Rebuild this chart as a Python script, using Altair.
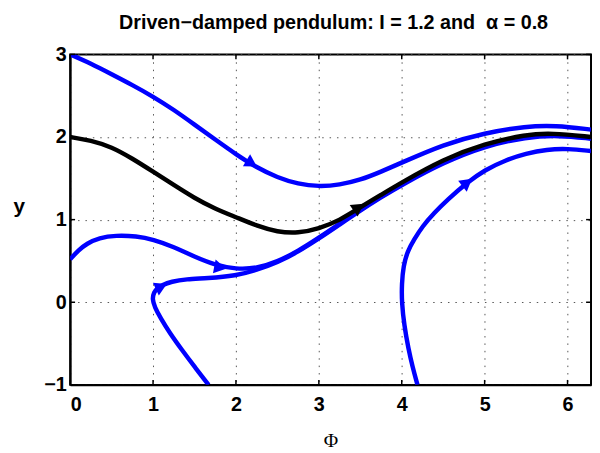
import altair as alt
import pandas as pd

# ---- data ----
c1_phi = [0, 0.25, 0.5, 0.75, 1.0, 1.25, 1.5, 1.75, 2.0, 2.25, 2.5, 2.75, 3.0, 3.25, 3.5, 3.75, 4.0, 4.5, 5.0, 5.5, 5.85, 6.2832]
c1_y = [3.0, 2.89, 2.76, 2.63, 2.49, 2.33, 2.15, 1.97, 1.79, 1.63, 1.51, 1.43, 1.40, 1.42, 1.48, 1.58, 1.69, 1.91, 2.05, 2.13, 2.14, 2.09]

blk_phi = [0, 0.25, 0.5, 0.75, 1.0, 1.25, 1.5, 1.75, 2.0, 2.25, 2.5, 2.75, 3.0, 3.25, 3.5, 3.75, 4.0, 4.5, 5.0, 5.5, 5.8, 6.2832]
blk_y = [2.0, 1.96, 1.88, 1.74, 1.58, 1.42, 1.26, 1.13, 1.03, 0.925, 0.85, 0.835, 0.89, 0.99, 1.15, 1.30, 1.45, 1.73, 1.92, 2.03, 2.05, 2.0]

c2_phi = [0, 0.1, 0.2, 0.35, 0.55, 0.8, 1.0, 1.25, 1.5, 1.75, 2.0, 2.25, 2.5, 2.75, 3.0, 3.25, 3.5, 3.75, 4.0, 4.5, 5.0, 5.5, 5.9, 6.2832]
c2_y = [0.52, 0.63, 0.71, 0.78, 0.81, 0.80, 0.76, 0.67, 0.55, 0.45, 0.40, 0.41, 0.49, 0.62, 0.78, 0.95, 1.12, 1.28, 1.43, 1.70, 1.90, 2.01, 2.03, 1.99]

c3_phi = [1.67, 1.50, 1.35, 1.20, 1.09, 1.02, 0.99, 1.01, 1.05, 1.11, 1.22, 1.40, 1.65, 2.0, 2.25, 2.5, 2.75, 3.0, 3.25, 3.5, 3.75, 4.0, 4.5, 5.0, 5.5, 5.9, 6.2832]
c3_y = [-1.0, -0.78, -0.58, -0.37, -0.19, -0.06, 0.04, 0.12, 0.17, 0.21, 0.25, 0.28, 0.29, 0.32, 0.39, 0.48, 0.61, 0.77, 0.94, 1.11, 1.27, 1.42, 1.69, 1.89, 2.0, 2.02, 1.98]

c4_phi = [4.19, 4.13, 4.08, 4.03, 4.00, 4.00, 4.02, 4.07, 4.15, 4.25, 4.39, 4.55, 4.79, 5.0, 5.25, 5.5, 5.75, 6.0, 6.2832]
c4_y = [-1.0, -0.78, -0.56, -0.28, 0.0, 0.22, 0.44, 0.62, 0.76, 0.92, 1.08, 1.24, 1.45, 1.60, 1.72, 1.80, 1.85, 1.86, 1.83]

# arrowheads: position, direction (degrees clockwise on screen), colour
arrow_phi = [2.19, 3.48, 4.79, 1.81, 1.10]
arrow_y = [1.68, 1.15, 1.45, 0.42, 0.19]
arrow_angle = [31, 325, 322, 11, 335]
arrow_curve = ["c1", "black", "c4", "c2", "c3"]

x_ticks = [0, 1, 2, 3, 4, 5, 6]
y_ticks = [-1, 0, 1, 2, 3]

TITLE = "Driven\u2212damped pendulum: I = 1.2 and\u00a0 \u03b1 = 0.8"

# ---- tables ----
rows = []
for name, xs, ys in [("c1", c1_phi, c1_y), ("c2", c2_phi, c2_y), ("c3", c3_phi, c3_y),
                     ("c4", c4_phi, c4_y), ("black", blk_phi, blk_y)]:
    for i, (a, b) in enumerate(zip(xs, ys)):
        rows.append({"curve": name, "phi": a, "y": b, "i": i})
curves = pd.DataFrame(rows)
arrows = pd.DataFrame({"phi": arrow_phi, "y": arrow_y, "angle": arrow_angle, "curve": arrow_curve})
xt = pd.DataFrame({"phi": x_ticks})
yt = pd.DataFrame({"y": y_ticks})

W, H = 528, 335
xscale = alt.Scale(domain=[0, 6.2832], nice=False, zero=False)
yscale = alt.Scale(domain=[-1, 3], nice=False, zero=False)
cscale = alt.Scale(domain=["c1", "c2", "c3", "c4", "black"],
                   range=["#0000ff", "#0000ff", "#0000ff", "#0000ff", "#000000"])

FONT = "Liberation Sans"

x_axis = alt.Axis(values=x_ticks, format="d", grid=True, gridDash=[1.5, 6], gridColor="#555555",
                  gridWidth=1, ticks=False, domain=True, domainColor="black", domainWidth=2,
                  labelFont=FONT, labelFontSize=20,
                  labelFontWeight="bold", labelColor="black", labelPadding=10,
                  title="\u03a6", titleFont="Liberation Serif", titleFontSize=20,
                  titleFontWeight="normal", titleColor="black", titleY=62,
                  titleBaseline="alphabetic")
y_axis = alt.Axis(values=y_ticks, format="d", grid=True, gridDash=[1.5, 6], gridColor="#555555",
                  gridWidth=1, ticks=False, domain=True, domainColor="black", domainWidth=2,
                  labelFont=FONT, labelFontSize=20,
                  labelFontWeight="bold", labelColor="black", labelPadding=4,
                  title="y", titleFont=FONT, titleFontSize=21, titleFontWeight="bold",
                  titleColor="black", titleAngle=0, titleX=-52, titleY=160,
                  titleAlign="center", titleBaseline="alphabetic")

X = alt.X("phi:Q", scale=xscale, axis=x_axis)
Y = alt.Y("y:Q", scale=yscale, axis=y_axis)

lines = alt.Chart(curves).mark_line(strokeWidth=4.5, interpolate="basis", clip=True).encode(
    x=X, y=Y,
    color=alt.Color("curve:N", scale=cscale, legend=None),
    detail="curve:N",
    order="i:Q",
)

heads = alt.Chart(arrows).mark_point(shape="triangle-right", filled=True, size=200, opacity=1).encode(
    x=X, y=Y,
    angle=alt.Angle("angle:Q", scale=None),
    color=alt.Color("curve:N", scale=cscale, legend=None),
)

tx_bot = alt.Chart(xt).mark_rule(color="black", strokeWidth=1.5).encode(
    x=X, y=alt.value(H), y2=alt.value(H - 5))
tx_top = alt.Chart(xt).mark_rule(color="black", strokeWidth=1.5).encode(
    x=X, y=alt.value(0), y2=alt.value(5))
ty_left = alt.Chart(yt).mark_rule(color="black", strokeWidth=1.5).encode(
    y=Y, x=alt.value(0), x2=alt.value(5))
ty_right = alt.Chart(yt).mark_rule(color="black", strokeWidth=1.5).encode(
    y=Y, x=alt.value(W), x2=alt.value(W - 5))

chart = alt.layer(lines, tx_bot, tx_top, ty_left, ty_right, heads).properties(
    width=W, height=H,
    background="white",
    title=alt.TitleParams(TITLE, font=FONT, fontSize=20, fontWeight="bold", color="black",
                          anchor="middle", offset=12, dx=3),
    autosize=alt.AutoSizeParams(type="none"),
    padding={"left": 63, "top": 44, "right": 1, "bottom": 64},
).configure_view(stroke="black", strokeWidth=2)

chart.save("out.html", embed_options={"renderer": "svg", "actions": False})
